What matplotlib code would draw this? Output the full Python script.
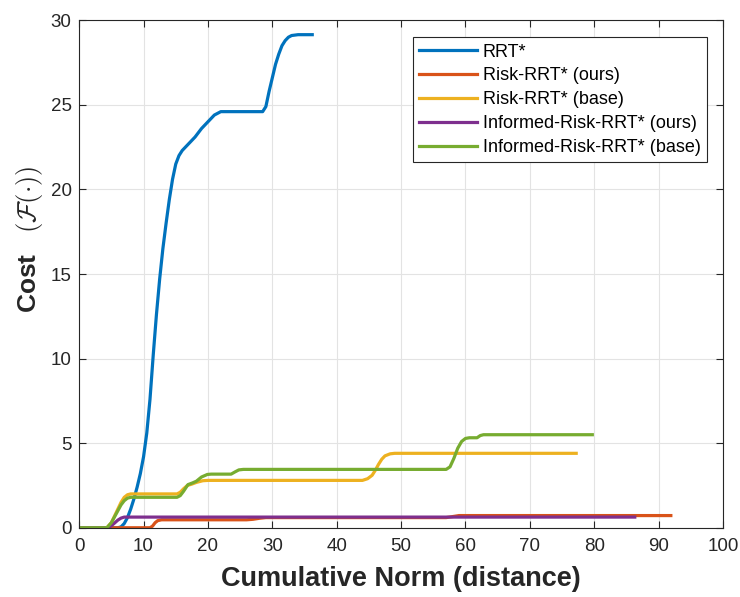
import matplotlib.pyplot as plt

plt.rcParams['font.family'] = ['Liberation Sans', 'DejaVu Sans']
plt.rcParams['mathtext.fontset'] = 'cm'

# RRT*
rrt_x = [0, 5, 6, 6.5, 7, 7.5, 8, 8.5, 9, 9.5, 10, 10.5, 11, 11.5, 12, 12.5, 13, 13.5, 14, 14.5,
         15, 15.5, 16, 17, 18, 19, 20, 21, 22, 23, 25, 27, 28.5, 29, 29.5, 30, 30.5, 31, 31.5,
         32, 32.5, 33, 34, 36.2]
rrt_y = [0, 0, 0, 0.05, 0.25, 0.6, 1.1, 1.7, 2.4, 3.2, 4.2, 5.6, 7.6, 10.2, 12.6, 14.7, 16.5, 18.0,
         19.4, 20.6, 21.5, 22.0, 22.3, 22.7, 23.1, 23.6, 24.0, 24.4, 24.6, 24.6, 24.6, 24.6, 24.6,
         24.9, 25.8, 26.6, 27.4, 28.0, 28.5, 28.8, 29.0, 29.1, 29.15, 29.15]

# Risk-RRT* (ours)
rr_ours_x = [0, 11, 11.4, 11.8, 12.2, 12.8, 26, 27, 28, 29, 57, 58, 59, 91.9]
rr_ours_y = [0, 0, 0.1, 0.3, 0.42, 0.47, 0.47, 0.5, 0.56, 0.6, 0.6, 0.66, 0.72, 0.72]

# Risk-RRT* (base)
rr_base_x = [0, 4.3, 5, 5.5, 6, 6.5, 7, 7.5, 8, 8.5, 15.2, 15.7, 16.2, 16.8, 17.5, 18.2, 19.2, 20,
             44, 44.8, 45.5, 46, 46.5, 47, 47.5, 48.3, 49, 77.2]
rr_base_y = [0, 0, 0.3, 0.7, 1.1, 1.5, 1.8, 1.95, 2.0, 2.0, 2.0, 2.1, 2.3, 2.5, 2.58, 2.68, 2.78, 2.8,
             2.8, 2.9, 3.1, 3.4, 3.75, 4.05, 4.25, 4.37, 4.4, 4.4]

# Informed-Risk-RRT* (ours)
irr_ours_x = [0, 4.4, 5, 5.5, 6, 6.5, 7, 86.3]
irr_ours_y = [0, 0, 0.12, 0.28, 0.45, 0.57, 0.63, 0.63]

# Informed-Risk-RRT* (base)
irr_base_x = [0, 4.3, 5, 5.5, 6, 6.5, 7, 7.5, 8, 8.5, 15.2, 15.7, 16.2, 16.9, 17.6, 18.2, 19, 19.9,
              20.5, 23.6, 24.2, 24.8, 25.5, 26, 57, 57.6, 58.2, 58.8, 59.4, 60, 60.6, 61.8, 62.3,
              62.8, 79.7]
irr_base_y = [0, 0, 0.3, 0.65, 1.0, 1.35, 1.6, 1.75, 1.8, 1.8, 1.8, 1.9, 2.15, 2.55, 2.65, 2.75,
              3.0, 3.15, 3.17, 3.17, 3.3, 3.42, 3.45, 3.45, 3.45, 3.6, 4.1, 4.7, 5.1, 5.28, 5.32,
              5.32, 5.45, 5.5, 5.5]

fig = plt.figure(figsize=(7.4, 5.97), dpi=100)
ax = fig.add_axes([0.107, 0.116, 0.87, 0.85])

lw = 2.3
ax.plot(rrt_x, rrt_y, color='#0072BD', lw=lw, label='RRT*')
ax.plot(rr_ours_x, rr_ours_y, color='#D95319', lw=lw, label='Risk-RRT* (ours)')
ax.plot(rr_base_x, rr_base_y, color='#EDB120', lw=lw, label='Risk-RRT* (base)')
ax.plot(irr_ours_x, irr_ours_y, color='#7E2F8E', lw=lw, label='Informed-Risk-RRT* (ours)')
ax.plot(irr_base_x, irr_base_y, color='#77AC30', lw=lw, label='Informed-Risk-RRT* (base)')

ax.set_xlim(0, 100)
ax.set_ylim(0, 30)
ax.set_xticks(range(0, 101, 10))
ax.set_yticks(range(0, 31, 5))
ax.grid(True, color='#e3e3e3', lw=0.8)
ax.set_axisbelow(True)
ax.tick_params(direction='in', top=True, right=True, labelsize=13.5, colors='#262626',
               length=5, width=0.8)
ax.tick_params(axis='x', pad=7.5)
ax.tick_params(axis='y', pad=5.5)
for s in ax.spines.values():
    s.set_color('#262626')
    s.set_linewidth(0.8)

ax.set_xlabel('Cumulative Norm (distance)', fontsize=19.5, fontweight='bold', labelpad=8,
              color='#262626')
ax.set_ylabel(r'Cost   $(\mathcal{F}(\cdot))$', fontsize=19, fontweight='bold', color='#262626')
ax.yaxis.set_label_coords(-0.053, 0.569)

leg = ax.legend(loc='upper right', bbox_to_anchor=(0.975, 0.9665), fontsize=13, fancybox=False,
                framealpha=1, edgecolor='#262626', handlelength=3.2, borderaxespad=0,
                labelspacing=0.38, handletextpad=0.3, borderpad=0.35)
leg.get_frame().set_linewidth(0.8)

fig.savefig('out.png', dpi=100)
